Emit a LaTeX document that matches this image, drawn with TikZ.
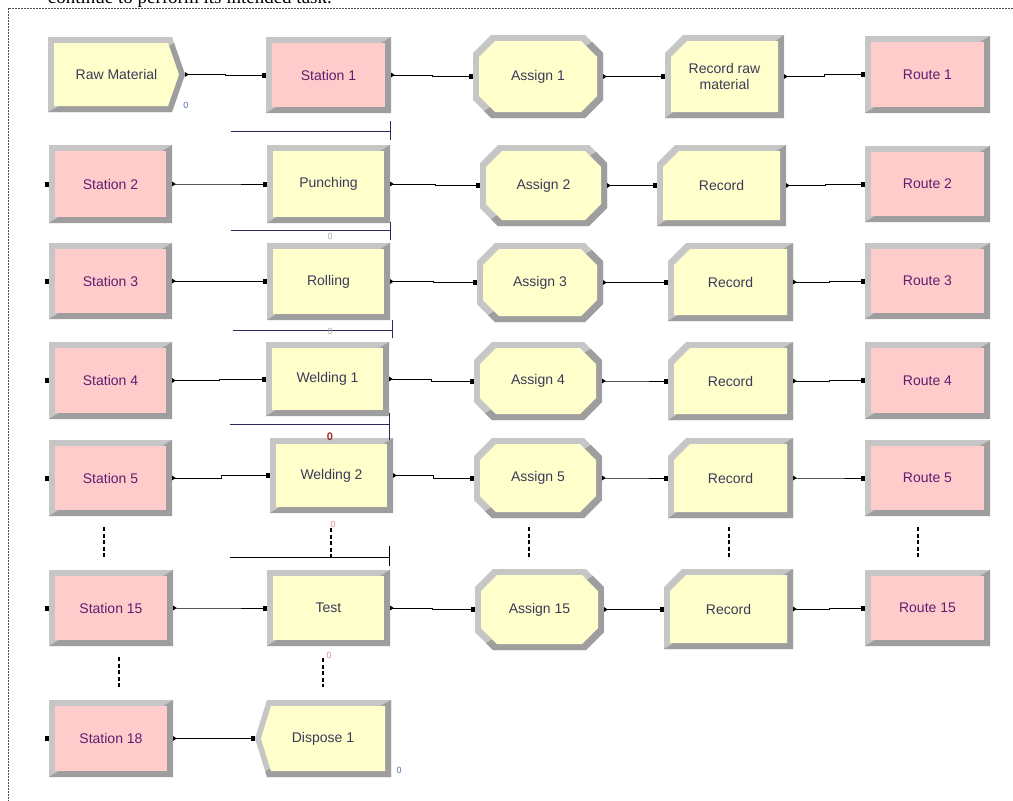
\documentclass[tikz,border=0pt]{standalone}
\usepackage{fontspec}
\setsansfont{Liberation Sans}
\newfontfamily\topfont{Liberation Serif}
\usetikzlibrary{arrows.meta,calc}
\definecolor{modyellow}{HTML}{FFFFCC}
\definecolor{modpink}{HTML}{FFCCCC}
\definecolor{bevlt}{HTML}{C6C6C6}
\definecolor{bevdk}{HTML}{9E9E9E}
\definecolor{txtpink}{HTML}{5E1F6E}
\definecolor{txtyel}{HTML}{3A3A58}
\definecolor{qline}{HTML}{2A2A5A}
\definecolor{zeroblue}{HTML}{5070B0}
\definecolor{zeropink}{HTML}{D89090}
\definecolor{zerogray}{HTML}{B8A8A8}
\definecolor{zerored}{HTML}{A02828}
\definecolor{framec}{HTML}{505050}
% shape outlines: x1 y1 x2 y2 k
\def\shprect#1#2#3#4#5{(#1,#2)--(#3,#2)--(#3,#4)--(#1,#4)--cycle}
\def\shpoct#1#2#3#4#5{({#1+#5},#2)--({#3-#5},#2)--(#3,{#2+#5})--(#3,{#4-#5})--({#3-#5},#4)--({#1+#5},#4)--(#1,{#4-#5})--(#1,{#2+#5})--cycle}
\def\shpcut#1#2#3#4#5{({#1+#5},#2)--(#3,#2)--(#3,#4)--(#1,#4)--(#1,{#2+#5})--cycle}
\def\shpcreate#1#2#3#4#5{(#1,#2)--({#3-#5},#2)--(#3,{(#2+#4)/2})--({#3-#5},#4)--(#1,#4)--cycle}
\def\shpdispose#1#2#3#4#5{(#1,{(#2+#4)/2})--({#1+#5},#2)--(#3,#2)--(#3,#4)--({#1+#5},#4)--cycle}
\def\kkrect{0}\def\kkoct{18}\def\kkcut{18}\def\kkcreate{13}\def\kkdispose{12}
\def\bev{6}
\newcommand{\armod}[9]{%
\pgfmathsetmacro\mA{#3}\pgfmathsetmacro\mB{#4}\pgfmathsetmacro\mC{#5}\pgfmathsetmacro\mD{#6}%
\pgfmathsetmacro\iA{#3+\bev}\pgfmathsetmacro\iB{#4+\bev}\pgfmathsetmacro\iC{#5-\bev}\pgfmathsetmacro\iD{#6-\bev}%
\edef\mK{\csname kk#2\endcsname}\pgfmathsetmacro\iK{max(\mK-2,0)}%
\expandafter\let\expandafter\curshp\csname shp#2\endcsname
\pgfmathsetmacro\mW{#5-#3}\pgfmathsetmacro\mH{#6-#4}%
\pgfmathsetmacro\mX{(#3+#5)/2}\pgfmathsetmacro\mY{(#4+#6)/2}%
\fill[bevlt] \curshp{\mA}{\mB}{\mC}{\mD}{\mK};
\begin{scope}
\clip \curshp{\mA}{\mB}{\mC}{\mD}{\mK};
\fill[bevdk] (\mA,\mD)--(\mC,\mB)--(\mC,\mD)--cycle;
\end{scope}
\fill[#7] \curshp{\iA}{\iB}{\iC}{\iD}{\iK};
\node[modtext,text=#8,minimum width=\mW pt,minimum height=\mH pt] (#1) at (\mX,\mY) {#9};
}
\begin{document}
\begin{tikzpicture}[x=1pt,y=-1pt,
  modtext/.style={inner sep=0pt,align=center,font=\sffamily\fontsize{14}{15.5}\selectfont},
  conn/.style={line width=0.8pt,
    {Triangle[reversed,length=3.5pt,width=4.5pt]}-{Square[length=4pt,width=5pt]},
    to path={-| ($(\tikztostart)!0.5!(\tikztotarget)$) |- (\tikztotarget)}},
  entrym/.style={fill=black,inner sep=0pt,minimum width=4pt,minimum height=5pt},
  qln/.style={draw=qline,line width=0.8pt},
  sepdash/.style={line width=2pt,dash pattern=on 4pt off 2.5pt},
  zero/.style={inner sep=0pt,font=\sffamily\fontsize{9}{9}\selectfont}]
\useasboundingbox (0,0) rectangle (1013,801);
\clip (0,0) rectangle (1013,801);
\fill[white] (0,0) rectangle (1013,801);
% cut-off text line at the top
\node[anchor=base east,inner sep=0pt,font=\topfont\fontsize{19}{20}\selectfont] (toptext) at (332,3.5) {continue to perform its intended task.};
% dashed frame
\draw[framec,line width=0.7pt,dash pattern=on 2pt off 1pt] (8,8) rectangle (1040,830);
% Row 1
\armod{raw}{create}{48}{37}{185}{112}{modyellow}{txtyel}{Raw Material}
\armod{st1}{rect}{266}{37}{391}{113}{modpink}{txtpink}{Station 1}
\armod{as1}{oct}{473}{35}{603}{118}{modyellow}{txtyel}{Assign 1}
\armod{rec1}{cut}{665}{35}{784}{118}{modyellow}{txtyel}{Record raw\\material}
\armod{rt1}{rect}{865}{36}{990}{113}{modpink}{txtpink}{Route 1}
% Row 2
\armod{st2}{rect}{49}{145}{172}{223}{modpink}{txtpink}{Station 2}
\armod{pun}{rect}{267}{145}{390}{223}{modyellow}{txtyel}{Punching}
\armod{as2}{oct}{480}{145}{607}{226}{modyellow}{txtyel}{Assign 2}
\armod{rec2}{cut}{657}{145}{786}{226}{modyellow}{txtyel}{Record}
\armod{rt2}{rect}{865}{146}{990}{222}{modpink}{txtpink}{Route 2}
% Row 3
\armod{st3}{rect}{49}{243}{172}{319}{modpink}{txtpink}{Station 3}
\armod{rol}{rect}{267}{243}{390}{320}{modyellow}{txtyel}{Rolling}
\armod{as3}{oct}{477}{243}{603}{322}{modyellow}{txtyel}{Assign 3}
\armod{rec3}{cut}{668}{243}{793}{321}{modyellow}{txtyel}{Record}
\armod{rt3}{rect}{865}{243}{990}{319}{modpink}{txtpink}{Route 3}
% Row 4
\armod{st4}{rect}{49}{342}{172}{419}{modpink}{txtpink}{Station 4}
\armod{wel1}{rect}{266}{342}{389}{416}{modyellow}{txtyel}{Welding 1}
\armod{as4}{oct}{474}{342}{602}{420}{modyellow}{txtyel}{Assign 4}
\armod{rec4}{cut}{668}{342}{793}{420}{modyellow}{txtyel}{Record}
\armod{rt4}{rect}{865}{342}{990}{419}{modpink}{txtpink}{Route 4}
% Row 5
\armod{st5}{rect}{49}{440}{172}{516}{modpink}{txtpink}{Station 5}
\armod{wel2}{rect}{270}{438}{393}{513}{modyellow}{txtyel}{Welding 2}
\armod{as5}{oct}{474}{438}{602}{518}{modyellow}{txtyel}{Assign 5}
\armod{rec5}{cut}{668}{438}{793}{518}{modyellow}{txtyel}{Record}
\armod{rt5}{rect}{865}{440}{990}{516}{modpink}{txtpink}{Route 5}
% Row 6
\armod{st15}{rect}{49}{570}{173}{646}{modpink}{txtpink}{Station 15}
\armod{test}{rect}{267}{570}{390}{646}{modyellow}{txtyel}{Test}
\armod{as15}{oct}{475}{569}{604}{650}{modyellow}{txtyel}{Assign 15}
\armod{rec15}{cut}{664}{569}{793}{649}{modyellow}{txtyel}{Record}
\armod{rt15}{rect}{865}{570}{990}{646}{modpink}{txtpink}{Route 15}
% Row 7
\armod{st18}{rect}{49}{700}{173}{777}{modpink}{txtpink}{Station 18}
\armod{disp}{dispose}{255}{700}{391}{777}{modyellow}{txtyel}{Dispose 1}
% connectors
\draw[conn] (raw.east) to (st1.west);
\draw[conn] (st1.east) to (as1.west);
\draw[conn] (as1.east) to (rec1.west);
\draw[conn] (rec1.east) to (rt1.west);
\draw[conn] (st2.east) to (pun.west);
\draw[conn] (pun.east) to (as2.west);
\draw[conn] (as2.east) to (rec2.west);
\draw[conn] (rec2.east) to (rt2.west);
\draw[conn] (st3.east) to (rol.west);
\draw[conn] (rol.east) to (as3.west);
\draw[conn] (as3.east) to (rec3.west);
\draw[conn] (rec3.east) to (rt3.west);
\draw[conn] (st4.east) to (wel1.west);
\draw[conn] (wel1.east) to (as4.west);
\draw[conn] (as4.east) to (rec4.west);
\draw[conn] (rec4.east) to (rt4.west);
\draw[conn] (st5.east) to (wel2.west);
\draw[conn] (wel2.east) to (as5.west);
\draw[conn] (as5.east) to (rec5.west);
\draw[conn] (rec5.east) to (rt5.west);
\draw[conn] (st15.east) to (test.west);
\draw[conn] (test.east) to (as15.west);
\draw[conn] (as15.east) to (rec15.west);
\draw[conn] (rec15.east) to (rt15.west);
\draw[conn] (st18.east) to (disp.west);
% unconnected entry points
\node[entrym,anchor=east] (e2) at (st2.west) {};
\node[entrym,anchor=east] (e3) at (st3.west) {};
\node[entrym,anchor=east] (e4) at (st4.west) {};
\node[entrym,anchor=east] (e5) at (st5.west) {};
\node[entrym,anchor=east] (e15) at (st15.west) {};
\node[entrym,anchor=east] (e18) at (st18.west) {};
% queue lines
\draw[qln] (231,131) -- (390,131); \draw[qln] (390,121) -- (390,140);
\draw[qln] (231,230) -- (390,230); \draw[qln] (390,222) -- (390,240);
\draw[qln] (233,330) -- (392,330); \draw[qln] (392,320) -- (392,338);
\draw[qln] (230,424) -- (389,424); \draw[qln] (389,413) -- (389,440);
\draw[line width=0.8pt] (230,557) -- (389,557); \draw[line width=0.8pt] (389,546) -- (389,566);
% continuation dashes
\draw[sepdash] (104,527) -- (104,557);
\draw[sepdash] (331,528) -- (331,557);
\draw[sepdash] (529,527) -- (529,557);
\draw[sepdash] (729,527) -- (729,557);
\draw[sepdash] (918,527) -- (918,557);
\draw[sepdash] (119,657) -- (119,687);
\draw[sepdash] (323,658) -- (323,687);
% counters
\node[zero,text=zeroblue] (z1) at (186,105) {0};
\node[zero,text=zerogray] (z2) at (330,236) {0};
\node[zero,text=zerogray] (z3) at (330,331) {0};
\node[zero,text=zerored,font=\sffamily\bfseries\fontsize{11}{11}\selectfont] (z4) at (330,437) {0};
\node[zero,text=zeropink] (z5) at (333,524) {0};
\node[zero,text=zeropink] (z6) at (329,655) {0};
\node[zero,text=zeroblue] (z7) at (399,770) {0};
\end{tikzpicture}
\end{document}
